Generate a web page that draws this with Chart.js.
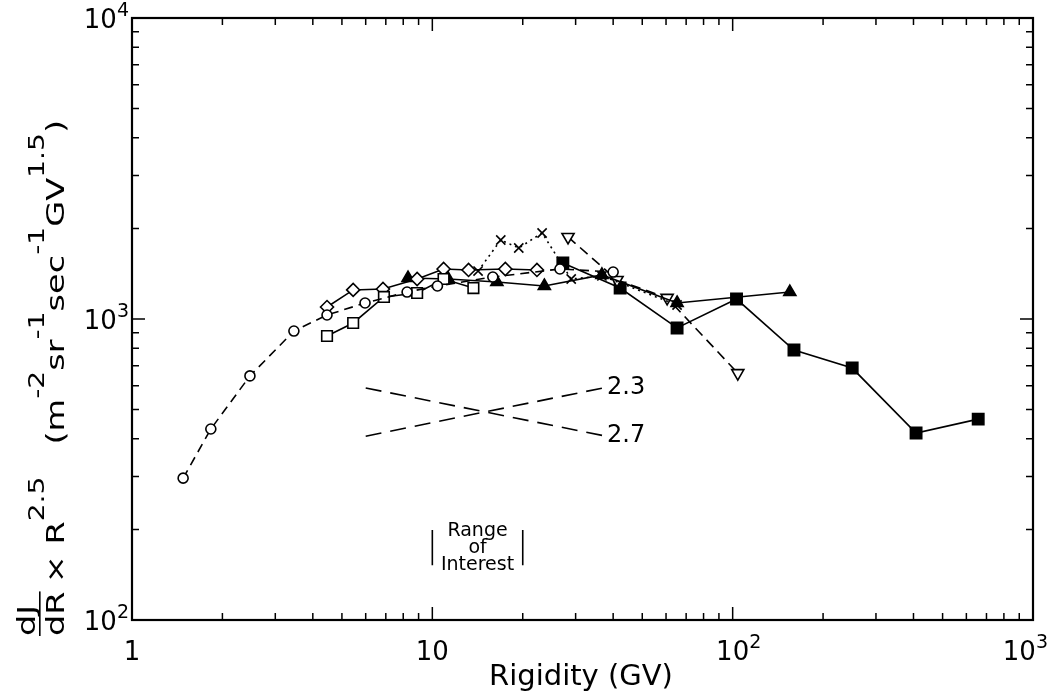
<!DOCTYPE html>
<html lang="en">
<head>
    <meta charset="UTF-8">
    <title>Rigidity spectrum</title>
    <script src="https://cdn.jsdelivr.net/npm/chart.js"></script>
    <style>
        body { margin: 0; background: #fff; }
    </style>
</head>
<body>
    <canvas id="spectrum" width="1052" height="698"></canvas>

    <script>
        // Rigidity (GV) and dJ/dR x R^2.5 values, one pair of arrays per data set
        const circR = [1.48, 1.83, 2.47, 3.46, 4.46, 5.97, 8.24, 10.4, 15.9, 26.6, 40.0];
        const circJ = [296, 431, 647, 912, 1031, 1130, 1229, 1287, 1379, 1466, 1432];
        const sqOpenR = [4.46, 5.45, 6.90, 8.90, 10.9, 13.7];
        const sqOpenJ = [878, 970, 1184, 1220, 1358, 1267];
        const diamR = [4.46, 5.45, 6.85, 8.90, 10.9, 13.2, 17.5, 22.3];
        const diamJ = [1096, 1249, 1258, 1358, 1466, 1455, 1466, 1455];
        const triR = [8.30, 11.3, 16.4, 23.6, 36.7, 65.3, 155];
        const triJ = [1368, 1358, 1327, 1287, 1401, 1130, 1229];
        const crossR = [14.2, 16.9, 19.4, 23.2, 29.0, 36.7, 65.3];
        const crossJ = [1443, 1830, 1721, 1931, 1358, 1390, 1113];
        const dtriR = [28.3, 41.2, 60.5, 104];
        const dtriJ = [1873, 1348, 1175, 661];
        const sqFillR = [27.2, 42.2, 65.3, 103, 160, 250, 408, 657];
        const sqFillJ = [1535, 1267, 934, 1165, 789, 687, 418, 465];

        // power law guide lines (index 2.3 and 2.7)
        const slopeR = [6, 37];
        const slope23J = [408, 590];
        const slope27J = [590, 410];
        const slopeLabels = ['2.3', '2.7'];

        // range of interest bracket
        const rangeR = [10, 20];
        const rangeJ = [199, 152];
        const rangeText = ['Range', 'of', 'Interest'];

        // axes
        const xTicks = [1, 10, 100, 1000];
        const xTickLabels = [['1', ''], ['10', ''], ['10', '2'], ['10', '3']];
        const yTicks = [100, 1000, 10000];
        const yTickLabels = [['10', '2'], ['10', '3'], ['10', '4']];
        const xTitle = 'Rigidity (GV)';

        const FONT = '"DejaVu Sans", sans-serif';

        function pts(xs, ys) {
            return xs.map((x, i) => ({ x: x, y: ys[i] }));
        }

        function series(xs, ys, style, opts) {
            return Object.assign({
                data: pts(xs, ys),
                showLine: true,
                borderColor: '#000',
                borderWidth: 1.6,
                pointStyle: style,
                pointBorderColor: '#000',
                pointBorderWidth: 1.6,
                pointBackgroundColor: '#fff',
                pointRadius: 6
            }, opts || {});
        }

        // base text centred on x (or right aligned), superscript hung after it
        function drawText(ctx, parts, x, y, size, supSize, supRaise, align, maxRight) {
            ctx.font = size + 'px ' + FONT;
            const wb = ctx.measureText(parts[0]).width;
            ctx.font = supSize + 'px ' + FONT;
            const ws = parts[1] ? ctx.measureText(parts[1]).width : 0;
            let x0 = x;
            if (align === 'center') x0 = x - wb / 2;
            if (align === 'right') x0 = x - wb - ws;
            if (maxRight && x0 + wb + ws > maxRight) x0 = maxRight - wb - ws;
            ctx.textAlign = 'left';
            ctx.font = size + 'px ' + FONT;
            ctx.fillText(parts[0], x0, y);
            if (parts[1]) {
                ctx.font = supSize + 'px ' + FONT;
                ctx.fillText(parts[1], x0 + wb, y - supRaise);
            }
        }

        function drawYTitle(ctx) {
            const main = 25, sup = 21;
            const parts = [['\u00d7', 0], [' R', 0], ['2.5', 1], ['   (m', 0], ['-2', 1], ['sr', 0], ['-1', 1],
                           ['sec', 0], ['-1', 1], ['GV', 0], ['1.5', 1], [')', 0]];
            ctx.save();
            ctx.fillStyle = '#000';
            ctx.font = main + 'px ' + FONT;
            const fw = Math.max(ctx.measureText('dJ').width, ctx.measureText('dR').width);
            let natural = fw + 6;
            parts.forEach(p => {
                ctx.font = (p[1] ? sup : main) + 'px ' + FONT;
                natural += ctx.measureText(p[0]).width;
            });
            const sx = 516 / natural;
            ctx.translate(64, 636);
            ctx.rotate(-Math.PI / 2);
            ctx.scale(sx, 1);
            ctx.textAlign = 'left';
            ctx.font = main + 'px ' + FONT;
            ctx.fillText('dR', 0, 0);
            ctx.fillText('dJ', 0, -29);
            ctx.fillRect(0, -25, fw, 1.6);
            let pos = fw + 6;
            parts.forEach(p => {
                ctx.font = (p[1] ? sup : main) + 'px ' + FONT;
                ctx.fillText(p[0], pos, p[1] ? -20 : 0);
                pos += ctx.measureText(p[0]).width;
            });
            ctx.restore();
        }

        const framePlugin = {
            id: 'frame',
            afterDraw(chart) {
                const ctx = chart.ctx;
                const a = chart.chartArea;
                const xs = chart.scales.x, ys = chart.scales.y;
                ctx.save();
                ctx.strokeStyle = '#000';
                ctx.fillStyle = '#000';

                // minor and major ticks, pointing inwards on all four sides
                ctx.lineWidth = 1.5;
                ctx.beginPath();
                [1, 10, 100].forEach(d => {
                    for (let m = 2; m <= 9; m++) {
                        const px = xs.getPixelForValue(m * d);
                        ctx.moveTo(px, a.bottom); ctx.lineTo(px, a.bottom - 7);
                        ctx.moveTo(px, a.top); ctx.lineTo(px, a.top + 7);
                    }
                });
                xTicks.forEach(v => {
                    const px = xs.getPixelForValue(v);
                    ctx.moveTo(px, a.bottom); ctx.lineTo(px, a.bottom - 13);
                    ctx.moveTo(px, a.top); ctx.lineTo(px, a.top + 13);
                });
                [100, 1000].forEach(d => {
                    for (let m = 2; m <= 9; m++) {
                        const py = ys.getPixelForValue(m * d);
                        ctx.moveTo(a.left, py); ctx.lineTo(a.left + 7, py);
                        ctx.moveTo(a.right, py); ctx.lineTo(a.right - 7, py);
                    }
                });
                yTicks.forEach(v => {
                    const py = ys.getPixelForValue(v);
                    ctx.moveTo(a.left, py); ctx.lineTo(a.left + 13, py);
                    ctx.moveTo(a.right, py); ctx.lineTo(a.right - 13, py);
                });
                ctx.stroke();

                ctx.lineWidth = 2.2;
                ctx.strokeRect(a.left, a.top, a.right - a.left, a.bottom - a.top);

                // tick labels
                ctx.textBaseline = 'alphabetic';
                xTicks.forEach((v, i) => {
                    drawText(ctx, xTickLabels[i], xs.getPixelForValue(v), a.bottom + 40, 26, 19, 12, 'center', 1048);
                });
                yTicks.forEach((v, i) => {
                    drawText(ctx, yTickLabels[i], a.left - 3, ys.getPixelForValue(v) + 10, 26, 19, 12, 'right');
                });

                // axis titles
                ctx.font = '29px ' + FONT;
                ctx.textAlign = 'center';
                ctx.fillText(xTitle, 581, 685);
                drawYTitle(ctx);

                // guide line labels
                ctx.font = '24px ' + FONT;
                ctx.textAlign = 'left';
                ctx.textBaseline = 'middle';
                const lx = xs.getPixelForValue(slopeR[1]) + 4;
                ctx.fillText(slopeLabels[0], lx, ys.getPixelForValue(slope23J[1]));
                ctx.fillText(slopeLabels[1], lx, ys.getPixelForValue(slope27J[1]));

                // range of interest text
                ctx.font = '19px ' + FONT;
                ctx.textAlign = 'center';
                const cx = (xs.getPixelForValue(rangeR[0]) + xs.getPixelForValue(rangeR[1])) / 2;
                const cy = (ys.getPixelForValue(rangeJ[0]) + ys.getPixelForValue(rangeJ[1])) / 2;
                rangeText.forEach((t, i) => {
                    ctx.fillText(t, cx, cy + (i - 1) * 17);
                });
                ctx.restore();
            }
        };

        const ctx = document.getElementById('spectrum').getContext('2d');
        const chart = new Chart(ctx, {
            type: 'scatter',
            data: {
                datasets: [
                    series(circR, circJ, 'circle', { borderDash: [9, 6], pointRadius: 5 }),
                    series(sqOpenR, sqOpenJ, 'rect', { pointRadius: 7.5 }),
                    series(diamR, diamJ, 'rectRot', { pointRadius: 6.5 }),
                    series(triR, triJ, 'triangle', { pointBackgroundColor: '#000', pointRadius: 7 }),
                    series(crossR, crossJ, 'crossRot', { borderDash: [2, 4], pointRadius: 6.5 }),
                    series(dtriR, dtriJ, 'triangle', { borderDash: [10, 6], pointRotation: 180, pointRadius: 7 }),
                    series(sqFillR, sqFillJ, 'rect', { pointBackgroundColor: '#000', pointRadius: 8 }),
                    series(slopeR, slope23J, false, { borderDash: [16, 9], pointRadius: 0 }),
                    series(slopeR, slope27J, false, { borderDash: [16, 9], pointRadius: 0 }),
                    series([rangeR[0], rangeR[0]], rangeJ, false, { pointRadius: 0 }),
                    series([rangeR[1], rangeR[1]], rangeJ, false, { pointRadius: 0 })
                ]
            },
            options: {
                responsive: false,
                animation: false,
                devicePixelRatio: 1,
                layout: { padding: { left: 132, right: 19, top: 18, bottom: 78 } },
                plugins: { legend: { display: false }, tooltip: { enabled: false } },
                scales: {
                    x: { type: 'logarithmic', min: 1, max: 1000, display: false },
                    y: { type: 'logarithmic', min: 100, max: 10000, display: false }
                }
            },
            plugins: [framePlugin]
        });
    </script>
</body>
</html>
